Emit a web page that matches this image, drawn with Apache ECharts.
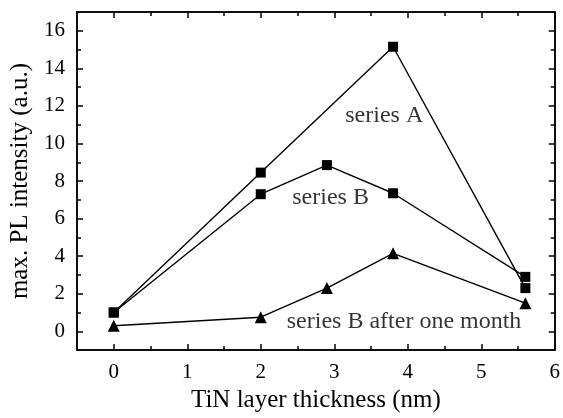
<!DOCTYPE html>
<html>
<head>
<meta charset="utf-8">
<script src="https://cdn.jsdelivr.net/npm/echarts@6/dist/echarts.min.js"></script>
<style>
  html, body { margin: 0; padding: 0; background: #fff; }
  #chart { width: 563px; height: 418px; }
</style>
</head>
<body>
<div id="chart"></div>
<script>
var thickness = [0, 2, 3.8, 5.6];
var seriesA = [1.0, 8.45, 15.15, 2.3];
var thicknessB = [0, 2, 2.9, 3.8, 5.6];
var seriesB = [1.0, 7.3, 8.85, 7.35, 2.9];
var seriesBMonth = [0.3, 0.75, 2.3, 4.15, 1.5];

var xMajor = [0, 1, 2, 3, 4, 5, 6];
var xMinor = [0.5, 1.5, 2.5, 3.5, 4.5, 5.5];
var yMajor = [0, 2, 4, 6, 8, 10, 12, 14, 16];
var yMinor = [1, 3, 5, 7, 9, 11, 13, 15];

var notes = [
  ['series A', 3.68, 11.5],
  ['series B', 2.95, 7.1],
  ['series B after one month', 3.95, 0.5]
];

function pairs(xs, ys) {
  var out = [];
  for (var i = 0; i < xs.length; i++) out.push([xs[i], ys[i]]);
  return out;
}

var font = '"Liberation Serif", "Times New Roman", serif';
var line = { show: true, onZero: false, lineStyle: { color: '#000', width: 1.5 } };

function xAx(pos, ticks, len, labels) {
  return {
    type: 'value', position: pos, min: -0.5, max: 6,
    axisLine: line,
    axisTick: { show: true, inside: true, length: len, customValues: ticks, lineStyle: { color: '#000', width: 1.5 } },
    axisLabel: labels ? { show: true, customValues: ticks, margin: 12, color: '#000', fontFamily: font, fontSize: 21 } : { show: false },
    splitLine: { show: false }
  };
}
function yAx(pos, ticks, len, labels) {
  return {
    type: 'value', position: pos, min: -1, max: 17,
    axisLine: line,
    axisTick: { show: true, inside: true, length: len, customValues: ticks, lineStyle: { color: '#000', width: 1.5 } },
    axisLabel: labels ? { show: true, customValues: ticks, margin: 12, color: '#000', fontFamily: font, fontSize: 21 } : { show: false },
    splitLine: { show: false }
  };
}

var x0 = xAx('bottom', xMajor, 6, true);
x0.name = 'TiN layer thickness (nm)';
x0.nameLocation = 'middle';
x0.nameGap = 36;
x0.nameTextStyle = { color: '#000', fontFamily: font, fontSize: 25 };

var y0 = yAx('left', yMajor, 6, true);
y0.name = 'max. PL intensity (a.u.)';
y0.nameLocation = 'middle';
y0.nameGap = 38;
y0.nameTextStyle = { color: '#000', fontFamily: font, fontSize: 25 };

var chart = echarts.init(document.getElementById('chart'));
chart.setOption({
  animation: false,
  backgroundColor: '#fff',
  grid: { left: 77, right: 6, top: 12, bottom: 57 },
  xAxis: [x0, xAx('bottom', xMinor, 4, false), xAx('top', xMajor, 6, false), xAx('top', xMinor, 4, false)],
  yAxis: [y0, yAx('left', yMinor, 4, false), yAx('right', yMajor, 6, false), yAx('right', yMinor, 4, false)],
  series: [
    {
      name: 'series A', type: 'line', data: pairs(thickness, seriesA),
      symbol: 'rect', symbolSize: 10,
      lineStyle: { color: '#000', width: 1.4 }, itemStyle: { color: '#000' }
    },
    {
      name: 'series B', type: 'line', data: pairs(thicknessB, seriesB),
      symbol: 'rect', symbolSize: 10,
      lineStyle: { color: '#000', width: 1.4 }, itemStyle: { color: '#000' }
    },
    {
      name: 'series B after one month', type: 'line', data: pairs(thicknessB, seriesBMonth),
      symbol: 'triangle', symbolSize: 12,
      lineStyle: { color: '#000', width: 1.4 }, itemStyle: { color: '#000' }
    },
    {
      type: 'scatter', symbolSize: 0, silent: true,
      data: notes.map(function (n) { return { name: n[0], value: [n[1], n[2]] }; }),
      label: {
        show: true, position: 'inside', formatter: '{b}',
        color: '#000', fontFamily: font, fontSize: 24
      }
    }
  ]
});
</script>
</body>
</html>
